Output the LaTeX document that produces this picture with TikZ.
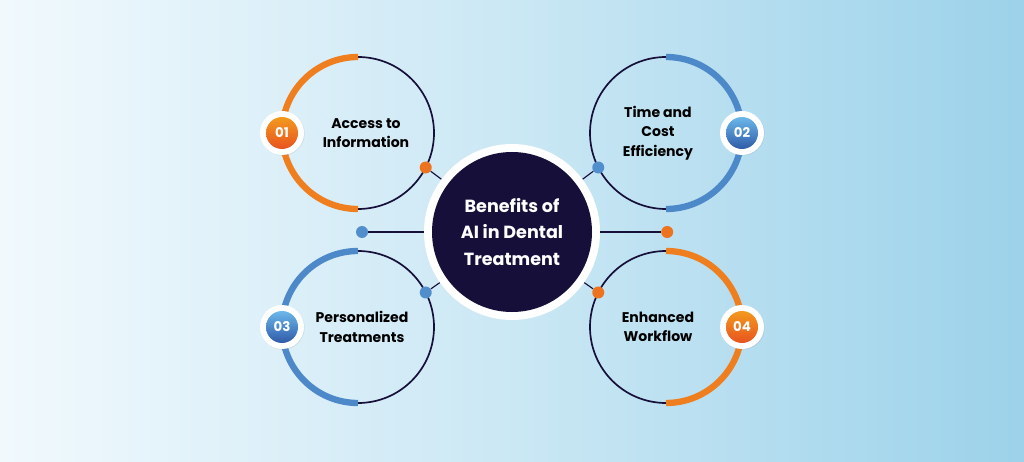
\documentclass[tikz,border=0pt]{standalone}
\usepackage{fontspec}
\setmainfont{Poppins}
\usetikzlibrary{shadows,calc}
\definecolor{navy}{HTML}{160F3A}
\definecolor{orA}{HTML}{F39A1E}
\definecolor{orB}{HTML}{E8531F}
\definecolor{blA}{HTML}{6BB8EA}
\definecolor{blB}{HTML}{2F5AA8}
\definecolor{bgA}{HTML}{F1F9FD}
\definecolor{bgB}{HTML}{9CD2EA}
\tikzset{
  ring/.style={draw=navy,line width=1.2pt},
  arcor/.style={draw=orA!60!orB,line width=4.5pt},
  arcbl/.style={draw=blA!50!blB,line width=4.5pt},
  badge/.style={circle,fill=white,minimum size=1.1cm,inner sep=0pt,drop shadow={opacity=.15,shadow xshift=.5pt,shadow yshift=-.5pt}},
  dot/.style={circle,minimum size=.3cm,inner sep=0pt},
  label/.style={font=\bfseries\fontsize{10}{14}\selectfont,align=center,text=black},
}
\begin{document}
\begin{tikzpicture}
\shade[left color=bgA,right color=bgB,middle color=bgA!55!bgB] (0,0) rectangle (25.6,-11.55);
\useasboundingbox (0,0) rectangle (25.6,-11.55);
% centres
\coordinate (c1) at (8.95,-3.325);
\coordinate (c2) at (16.65,-3.325);
\coordinate (c3) at (8.95,-8.175);
\coordinate (c4) at (16.65,-8.175);
% outer circles
\foreach \c in {c1,c2,c3,c4} \draw[ring] (\c) circle (1.9);
\draw[arcor] ($(c1)+(90:1.9)$) arc (90:270:1.9);
\draw[arcbl] ($(c2)+(90:1.9)$) arc (90:-90:1.9);
\draw[arcbl] ($(c3)+(90:1.9)$) arc (90:270:1.9);
\draw[arcor] ($(c4)+(90:1.9)$) arc (90:-90:1.9);
% centre
\node[circle,fill=white,minimum size=4.4cm,inner sep=0pt] (hub) at (12.8,-5.8) {};
\node[circle,fill=navy,minimum size=4.0cm,inner sep=0pt,font=\bfseries\fontsize{12.5}{19}\selectfont,text=white,align=center] (core) at (hub) {Benefits of\\AI in Dental\\Treatment};
% dots
\node[dot,fill=orA!45!orB] (d1) at ($(c1)+(-27:1.9)$) {};
\node[dot,fill=blA!55!blB] (d2) at ($(c2)+(207:1.9)$) {};
\node[dot,fill=blA!55!blB] (d3) at ($(c3)+(27:1.9)$) {};
\node[dot,fill=orA!45!orB] (d4) at ($(c4)+(153:1.9)$) {};
\node[dot,fill=blA!55!blB] (d5) at (9.05,-5.8) {};
\node[dot,fill=orA!45!orB] (d6) at (16.68,-5.8) {};
\foreach \d in {d1,d2,d3,d4,d5,d6} \draw[navy,line width=.8pt] (\d) -- (hub);
% badges
\node[badge] (b1) at ($(c1)+(-1.9,0)$) {};
\node[badge] (b2) at ($(c2)+(1.9,0)$) {};
\node[badge] (b3) at ($(c3)+(-1.9,0)$) {};
\node[badge] (b4) at ($(c4)+(1.9,0)$) {};
\foreach \b/\n/\ca/\cb in {b1/01/orA/orB,b2/02/blA/blB,b3/03/blA/blB,b4/04/orA/orB}
  \node[circle,minimum size=.8cm,inner sep=0pt,top color=\ca,bottom color=\cb,text=white,font=\bfseries\fontsize{9.5}{11}\selectfont] at (\b) {\n};
% labels
\node[label] (t1) at ($(c1)+(0.2,0)$) {Access to\\Information};
\node[label] (t2) at ($(c2)+(-0.2,0)$) {Time and\\Cost\\Efficiency};
\node[label] (t3) at ($(c3)+(0.1,0)$) {Personalized\\Treatments};
\node[label] (t4) at ($(c4)+(-0.2,0)$) {Enhanced\\Workflow};
\end{tikzpicture}
\end{document}
